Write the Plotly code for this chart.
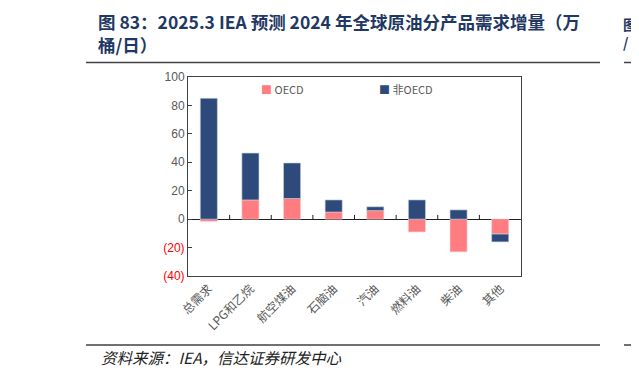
import plotly.graph_objects as go

categories = ["总需求", "LPG和乙烷", "航空煤油", "石脑油", "汽油", "燃料油", "柴油", "其他"]
oecd = [-1.5, 13.5, 14.5, 5.0, 6.0, -9.0, -23.0, -10.5]
non_oecd = [85.0, 33.0, 25.0, 8.5, 2.7, 13.5, 6.5, -5.5]
y_ticks = [-40, -20, 0, 20, 40, 60, 80, 100]
y_tick_labels = ["(40)", "(20)", "0", "20", "40", "60", "80", "100"]

OFF = 8  # page body margin
W, H = 639, 376
PW, PH = 333, 199
L, T = 188 - OFF, 77 - OFF
R, B = W - L - PW, H - T - PH

def px(x):
    return (x - OFF - L) / PW

def py(y):
    return (H - B - (y - OFF)) / PH

CJK = "Noto Sans CJK SC, Noto Sans, sans-serif"
NAVY = "#2E4A7A"
PINK = "#FF7C80"
GRAY = "#595959"

fig = go.Figure()
fig.add_trace(go.Bar(x=categories, y=oecd, name="OECD", marker=dict(color=PINK, line=dict(color="#F4D0D4", width=0.6))))
fig.add_trace(go.Bar(x=categories, y=non_oecd, name="非OECD", marker=dict(color=NAVY, line=dict(color="#C8D0E0", width=0.6))))

ticktext = [f"<span style='color:#FF0000'>{t}</span>" if v < 0 else t for v, t in zip(y_ticks, y_tick_labels)]

fig.update_layout(
    width=W, height=H,
    margin=dict(l=L, r=R, t=T, b=B, autoexpand=False),
    paper_bgcolor="white", plot_bgcolor="white",
    barmode="relative", bargap=0.59,
    font=dict(family=CJK, color=GRAY, size=11),
    showlegend=False,
    xaxis=dict(showgrid=False, showline=True, mirror=True, linecolor="#404040", linewidth=1,
               ticks="", tickangle=-45, tickfont=dict(size=12, color=GRAY, family=CJK),
               range=[-0.5, len(categories) - 0.5]),
    yaxis=dict(range=[-40, 100], tickvals=y_ticks, ticktext=ticktext, showgrid=False,
               showline=True, mirror=True, linecolor="#404040", linewidth=1,
               ticks="inside", ticklen=4, tickcolor="#404040",
               tickfont=dict(size=12, color=GRAY, family="Liberation Sans, Arial, sans-serif"),
               zeroline=True, zerolinecolor="#202020", zerolinewidth=1),
)

shapes = []
# category boundary ticks on the zero line
for i in range(len(categories) - 1):
    shapes.append(dict(type="line", xref="x", yref="y", x0=i + 0.5, x1=i + 0.5, y0=0, y1=3,
                       line=dict(color="#202020", width=1)))
# page rules
for y in (62.5, 345):
    shapes.append(dict(type="line", xref="paper", yref="paper", x0=px(86), x1=px(600), y0=py(y), y1=py(y),
                       line=dict(color="#404040", width=1.5)))
    shapes.append(dict(type="line", xref="paper", yref="paper", x0=px(624), x1=px(640), y0=py(y), y1=py(y),
                       line=dict(color="#404040", width=1.5)))
fig.update_layout(shapes=shapes)

TITLE = "#1F3864"
ann = [
    dict(text="<b>图 83：2025.3 IEA 预测 2024 年全球原油分产品需求增量（万<br>桶/日）</b>",
         x=px(96), y=py(33), align="left",
         font=dict(size=17.5, color=TITLE, family=CJK)),
    dict(text="<b>图<br>/</b>", x=px(639), y=py(33), align="left",
         font=dict(size=14, color=TITLE, family=CJK), xanchor="right"),
    dict(text="<i>资料来源：IEA，信达证券研发中心</i>", x=px(99), y=py(357),
         font=dict(size=15.5, color="#222222", family=CJK)),
    # legend
    dict(text=f"<span style='color:{PINK}'>■</span> OECD", x=px(259), y=py(89),
         font=dict(size=11, color=GRAY, family=CJK)),
    dict(text=f"<span style='color:{NAVY}'>■</span> 非OECD", x=px(377), y=py(89),
         font=dict(size=11, color=GRAY, family=CJK)),
]
for a in ann:
    a.setdefault("xanchor", "left")
    a.update(xref="paper", yref="paper", yanchor="middle", showarrow=False)
fig.update_layout(annotations=ann)

fig.write_html("out.html")
